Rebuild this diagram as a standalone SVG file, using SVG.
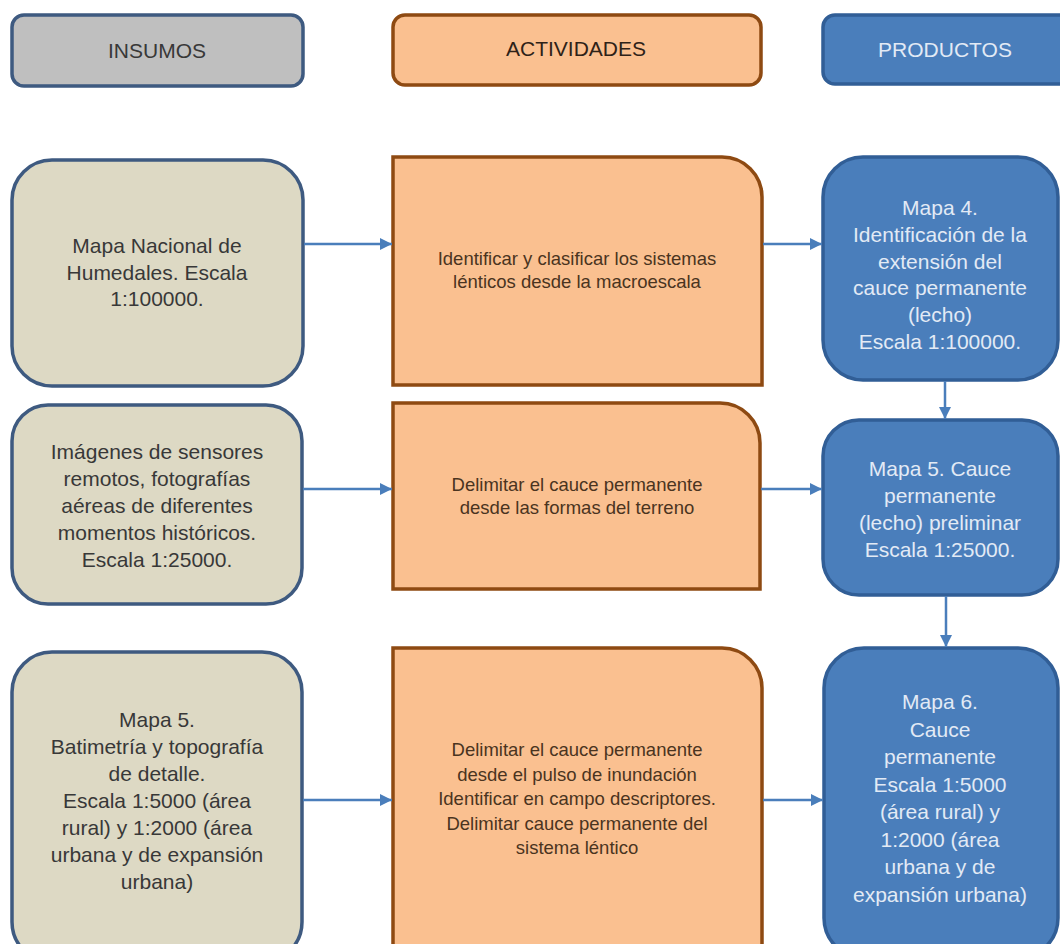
<svg xmlns="http://www.w3.org/2000/svg" width="1060" height="944" viewBox="0 0 1060 944">
<defs>
<style>
.in{fill:#ddd9c4;stroke:#3e5a80;stroke-width:3.5}
.hin{fill:#bfbfbf;stroke:#3e5a80;stroke-width:3.5}
.act{fill:#fac090;stroke:#8e4a12;stroke-width:3.5}
.pr{fill:#4a7ebb;stroke:#315e96;stroke-width:3.5}
.t{font-family:"Liberation Sans",Arial,sans-serif;font-size:21px;text-anchor:middle}
.ti{fill:#383838}
.tp{fill:#e2eaf5}
.ta{font-family:"Liberation Sans",Arial,sans-serif;font-size:18.5px;text-anchor:middle;fill:#4a3420}
.c{stroke:#4a7ebb;stroke-width:2.5;fill:none}
</style>
<marker id="ah" viewBox="0 0 10 10" refX="10" refY="5" markerWidth="5" markerHeight="5" orient="auto" markerUnits="strokeWidth">
<path d="M0,0 L10,5 L0,10 Z" fill="#4a7ebb"/>
</marker>
</defs>
<rect width="1060" height="944" fill="#ffffff"/>

<g id="h-insumos">
<rect class="hin" x="12" y="15" width="291" height="71" rx="12"/>
<text class="t ti" x="157" y="58">INSUMOS</text>
</g>
<g id="h-actividades">
<rect class="act" x="393" y="15" width="368" height="70" rx="12"/>
<text class="t" x="576" y="56" fill="#2e2218">ACTIVIDADES</text>
</g>
<g id="h-productos">
<rect class="pr" x="823" y="15" width="250" height="69" rx="12"/>
<text class="t tp" x="945" y="57">PRODUCTOS</text>
</g>

<g id="in1">
<rect class="in" x="12" y="160" width="291" height="226" rx="40"/>
<text class="t ti"><tspan x="157" y="253">Mapa Nacional de</tspan><tspan x="157" y="280">Humedales. Escala</tspan><tspan x="157" y="306">1:100000.</tspan></text>
</g>
<g id="in2">
<rect class="in" x="12" y="405" width="290" height="199" rx="36"/>
<text class="t ti"><tspan x="157" y="459">Imágenes de sensores</tspan><tspan x="157" y="486">remotos, fotografías</tspan><tspan x="157" y="513">aéreas de diferentes</tspan><tspan x="157" y="540">momentos históricos.</tspan><tspan x="157" y="567">Escala 1:25000.</tspan></text>
</g>
<g id="in3">
<rect class="in" x="12" y="652" width="290" height="310" rx="40"/>
<text class="t ti"><tspan x="157" y="727">Mapa 5.</tspan><tspan x="157" y="754">Batimetría y topografía</tspan><tspan x="157" y="781">de detalle.</tspan><tspan x="157" y="808">Escala 1:5000 (área</tspan><tspan x="157" y="835">rural) y 1:2000 (área</tspan><tspan x="157" y="862">urbana y de expansión</tspan><tspan x="157" y="889">urbana)</tspan></text>
</g>

<g id="act1">
<path class="act" d="M393,157 H722 A40,40 0 0 1 762,197 V385 H393 Z"/>
<text class="ta"><tspan x="577" y="265">Identificar y clasificar los sistemas</tspan><tspan x="577" y="288">lénticos desde la macroescala</tspan></text>
</g>
<g id="act2">
<path class="act" d="M393,403 H720 A40,40 0 0 1 760,443 V589 H393 Z"/>
<text class="ta"><tspan x="577" y="491">Delimitar el cauce permanente</tspan><tspan x="577" y="514">desde las formas del terreno</tspan></text>
</g>
<g id="act3">
<path class="act" d="M393,648 H722 A40,40 0 0 1 762,688 V962 H393 Z"/>
<text class="ta"><tspan x="577" y="756">Delimitar el cauce permanente</tspan><tspan x="577" y="780.5">desde el pulso de inundación</tspan><tspan x="577" y="805">Identificar en campo descriptores.</tspan><tspan x="577" y="829.5">Delimitar cauce permanente del</tspan><tspan x="577" y="854">sistema léntico</tspan></text>
</g>

<g id="pr1">
<rect class="pr" x="823" y="157" width="235" height="223" rx="40"/>
<text class="t tp"><tspan x="940" y="215">Mapa 4.</tspan><tspan x="940" y="242">Identificación de la</tspan><tspan x="940" y="269">extensión del</tspan><tspan x="940" y="295">cauce permanente</tspan><tspan x="940" y="322">(lecho)</tspan><tspan x="940" y="349">Escala 1:100000.</tspan></text>
</g>
<g id="pr2">
<rect class="pr" x="823" y="420" width="235" height="175" rx="36"/>
<text class="t tp"><tspan x="940" y="476">Mapa 5. Cauce</tspan><tspan x="940" y="503">permanente</tspan><tspan x="940" y="530">(lecho) preliminar</tspan><tspan x="940" y="557">Escala 1:25000.</tspan></text>
</g>
<g id="pr3">
<rect class="pr" x="824" y="648" width="234" height="310" rx="40"/>
<text class="t tp"><tspan x="940" y="709">Mapa 6.</tspan><tspan x="940" y="736.5">Cauce</tspan><tspan x="940" y="764">permanente</tspan><tspan x="940" y="791.5">Escala 1:5000</tspan><tspan x="940" y="819">(área rural) y</tspan><tspan x="940" y="846.5">1:2000 (área</tspan><tspan x="940" y="874">urbana y de</tspan><tspan x="940" y="901.5">expansión urbana)</tspan></text>
</g>

<g id="connectors">
<line class="c" x1="304" y1="244" x2="392" y2="244" marker-end="url(#ah)"/>
<line class="c" x1="763" y1="244" x2="822" y2="244" marker-end="url(#ah)"/>
<line class="c" x1="303" y1="489" x2="392" y2="489" marker-end="url(#ah)"/>
<line class="c" x1="761" y1="489" x2="822" y2="489" marker-end="url(#ah)"/>
<line class="c" x1="303" y1="800" x2="392" y2="800" marker-end="url(#ah)"/>
<line class="c" x1="763" y1="800" x2="823" y2="800" marker-end="url(#ah)"/>
<line class="c" x1="945" y1="381" x2="945" y2="419" marker-end="url(#ah)"/>
<line class="c" x1="946" y1="596" x2="946" y2="647" marker-end="url(#ah)"/>
</g>
</svg>
